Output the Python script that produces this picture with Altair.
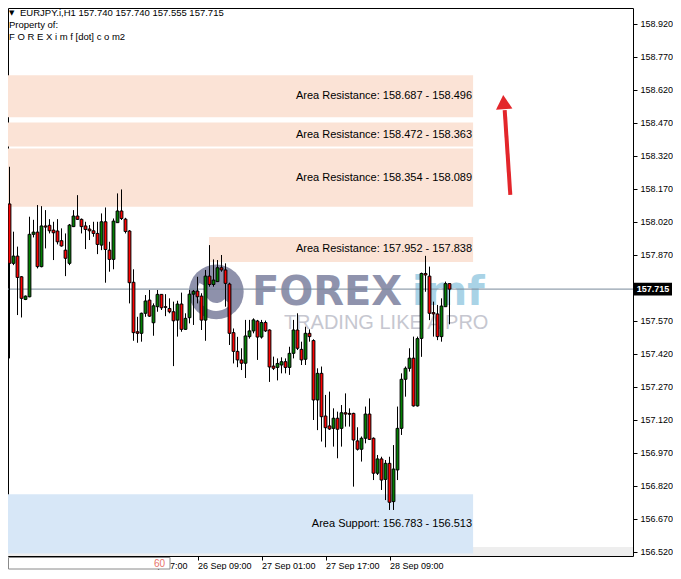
import json
import altair as alt
import pandas as pd

# ---------------- data ----------------
opens = [157.680, 158.102, 157.832, 157.865, 157.771, 157.668, 157.680, 157.964, 157.974, 157.817,
         158.002, 158.005, 157.983, 157.979, 157.935, 157.892, 157.832, 157.999, 158.047, 158.032,
         158.002, 157.988, 157.980, 157.968, 157.915, 158.021, 157.892, 157.850, 158.017, 158.070,
         158.033, 157.979, 157.746, 157.521, 157.514, 157.605, 157.665, 157.562, 157.635, 157.691,
         157.635, 157.627, 157.612, 157.574, 157.647, 157.532, 157.585, 157.692, 157.706, 157.683,
         157.574, 157.774, 157.736, 157.749, 157.812, 157.802, 157.738, 157.517, 157.432, 157.393,
         157.378, 157.499, 157.525, 157.570, 157.497, 157.563, 157.529, 157.365, 157.359, 157.370,
         157.385, 157.359, 157.423, 157.529, 157.441, 157.396, 157.514, 157.481, 157.211, 157.332,
         157.138, 157.093, 157.082, 157.128, 157.082, 157.153, 157.150, 157.150, 157.025, 156.987,
         157.037, 157.147, 157.037, 156.878, 156.943, 156.850, 156.923, 156.749, 156.893, 157.082,
         157.305, 157.355, 157.401, 157.184, 157.491, 157.786, 157.774, 157.608, 157.602, 157.499,
         157.635, 157.740]
highs = [158.188, 158.271, 157.976, 157.908, 157.774, 157.686, 158.044, 158.030, 158.097, 158.092,
         158.074, 158.033, 158.021, 158.033, 157.991, 157.968, 158.011, 158.074, 158.142, 158.036,
         158.021, 158.006, 158.021, 158.021, 158.059, 158.086, 157.930, 158.036, 158.150, 158.168,
         158.039, 157.983, 157.805, 157.589, 157.608, 157.688, 157.711, 157.650, 157.711, 157.692,
         157.692, 157.673, 157.658, 157.662, 157.699, 157.605, 157.711, 157.711, 157.771, 157.696,
         157.802, 157.915, 157.850, 157.847, 157.870, 157.832, 157.744, 157.536, 157.498, 157.446,
         157.575, 157.575, 157.582, 157.575, 157.575, 157.572, 157.532, 157.408, 157.400, 157.405,
         157.400, 157.453, 157.575, 157.605, 157.476, 157.544, 157.532, 157.487, 157.355, 157.363,
         157.234, 157.249, 157.173, 157.158, 157.188, 157.241, 157.173, 157.153, 157.087, 157.045,
         157.181, 157.218, 157.041, 156.961, 156.953, 156.938, 156.953, 157.006, 157.181, 157.332,
         157.363, 157.446, 157.499, 157.499, 157.790, 157.866, 157.817, 157.658, 157.643, 157.673,
         157.749, 157.740]
lows = [157.673, 157.400, 157.824, 157.597, 157.586, 157.665, 157.678, 157.950, 157.809, 157.814,
        157.900, 157.968, 157.847, 157.918, 157.908, 157.774, 157.824, 157.997, 158.029, 157.968,
        157.897, 157.938, 157.953, 157.874, 157.892, 157.744, 157.794, 157.805, 158.017, 158.029,
        157.968, 157.650, 157.480, 157.471, 157.476, 157.589, 157.589, 157.503, 157.612, 157.620,
        157.592, 157.605, 157.365, 157.499, 157.521, 157.529, 157.559, 157.552, 157.650, 157.529,
        157.480, 157.726, 157.726, 157.749, 157.794, 157.635, 157.461, 157.377, 157.360, 157.347,
        157.311, 157.490, 157.514, 157.393, 157.490, 157.520, 157.293, 157.347, 157.300, 157.332,
        157.332, 157.325, 157.400, 157.438, 157.370, 157.370, 157.476, 157.120, 157.074, 157.022,
        156.996, 157.075, 156.999, 156.946, 156.999, 157.090, 157.090, 156.817, 156.981, 156.931,
        157.014, 157.029, 156.847, 156.870, 156.802, 156.756, 156.711, 156.711, 156.847, 157.052,
        157.226, 157.340, 157.181, 157.181, 157.407, 157.703, 157.574, 157.499, 157.483, 157.476,
        157.635, 157.555]
closes = [158.105, 157.832, 157.865, 157.768, 157.673, 157.683, 157.964, 157.974, 157.817, 158.002,
          157.997, 157.980, 157.971, 157.930, 157.911, 157.855, 158.006, 158.047, 158.032, 157.999,
          157.986, 157.980, 157.968, 157.918, 158.021, 157.895, 157.850, 158.024, 158.070, 158.036,
          157.977, 157.744, 157.517, 157.514, 157.605, 157.661, 157.592, 157.639, 157.691, 157.630,
          157.632, 157.612, 157.571, 157.647, 157.532, 157.582, 157.692, 157.705, 157.680, 157.574,
          157.774, 157.736, 157.756, 157.812, 157.802, 157.741, 157.514, 157.432, 157.393, 157.378,
          157.502, 157.525, 157.575, 157.497, 157.563, 157.525, 157.361, 157.355, 157.377, 157.385,
          157.359, 157.423, 157.529, 157.446, 157.393, 157.514, 157.499, 157.211, 157.332, 157.135,
          157.085, 157.079, 157.128, 157.078, 157.153, 157.147, 157.146, 157.029, 156.987, 157.037,
          157.147, 157.032, 156.878, 156.943, 156.847, 156.923, 156.746, 156.897, 157.082, 157.305,
          157.355, 157.401, 157.184, 157.490, 157.786, 157.779, 157.605, 157.602, 157.499, 157.638,
          157.740, 157.715]

tick_idx = [32, 48, 64, 80, 96]
tick_labels = ["25 Sep 17:00", "26 Sep 09:00", "27 Sep 01:00", "27 Sep 17:00", "28 Sep 09:00"]
price_ticks = [156.520, 156.670, 156.820, 156.970, 157.120, 157.270, 157.420, 157.570,
               157.870, 158.020, 158.170, 158.320, 158.470, 158.620, 158.770, 158.920]

box_labels = ["Area Resistance: 158.687 - 158.496", "Area Resistance: 158.472 - 158.363",
              "Area Resistance: 158.354 - 158.089", "Area Resistance: 157.952 - 157.838",
              "Area Support: 156.783 - 156.513"]
box_hi = [158.687, 158.472, 158.354, 157.952, 156.783]
box_lo = [158.496, 158.363, 158.089, 157.838, 156.513]
box_start = [-3.0, -3.0, -3.0, 50.9, -3.0]
box_end = [116.9, 116.9, 116.9, 116.9, 116.9]
box_fill = ["#fbe3d6", "#fbe3d6", "#fbe3d6", "#fbe3d6", "#d7e7f7"]

last_price = 157.715
header_lines = ["EURJPY.i,H1  157.740 157.740 157.555 157.715", "Property of:",
                "F O R E X i m f [dot] c o m2"]

arrow_idx = [126.2, 124.8]
arrow_price = [158.143, 158.529]
arrow_head = (124.55, 158.565)

# ---------------- scales ----------------
XDOM = [0.625, 156.875]
YDOM = [156.5018, 158.9927]
W, H = 625, 548
FONT = "Liberation Sans"

label_expr = "%s[indexof(%s, datum.value)]" % (json.dumps(tick_labels), json.dumps(tick_idx))
x_axis = alt.Axis(values=tick_idx, labelExpr=label_expr, title=None, orient="bottom",
                  tickSize=4, tickColor="black", domain=False, grid=False, zindex=0,
                  labelAlign="left", labelBaseline="top", labelPadding=1, labelFontSize=9,
                  labelFont=FONT, labelColor="black", labelOverlap=False, labelFlush=False,
                  labelBound=False)
y_axis = alt.Axis(values=price_ticks, format=".3f", title=None, orient="right",
                  tickSize=4, tickColor="black", domain=False, grid=False, zindex=0,
                  labelPadding=3, labelFontSize=9, labelFont=FONT, labelColor="black",
                  labelOverlap=False, labelFlush=False, labelBound=False)
xs = alt.Scale(domain=XDOM, nice=False, zero=False)
ys = alt.Scale(domain=YDOM, nice=False, zero=False)


def X(f):
    return alt.X(f, type="quantitative", scale=xs, axis=x_axis)


def Y(f):
    return alt.Y(f, type="quantitative", scale=ys, axis=y_axis)


df = pd.DataFrame({"i": list(range(len(opens))), "o": opens, "h": highs, "l": lows, "c": closes})
df["fillc"] = ["#008000" if c >= o else "#ff0000" for o, c in zip(opens, closes)]
df["x1"] = df["i"] - 0.35
df["x2"] = df["i"] + 0.35

boxes = pd.DataFrame({"label": box_labels, "hi": box_hi, "lo": box_lo, "x1": box_start,
                      "x2": box_end, "fillc": box_fill})
boxes["mid"] = (boxes["hi"] + boxes["lo"]) / 2

# bottom grey strip
strip = alt.Chart(pd.DataFrame({"a": [-3.0], "b": [160.0], "lo": [YDOM[0]], "hi": [156.543]})).mark_rect(
    color="#eeeeee", clip=True).encode(x=X("a"), x2="b", y=Y("lo"), y2="hi")

box_layer = alt.Chart(boxes).mark_rect(clip=True).encode(
    x=X("x1"), x2="x2", y=Y("lo"), y2="hi", color=alt.Color("fillc:N", scale=None))

box_text = alt.Chart(boxes).mark_text(align="right", baseline="middle", dx=-1, fontSize=11,
                                      font=FONT, color="black").encode(
    x=X("x2"), y=Y("mid"), text="label:N")

# watermark
logo = alt.Chart(pd.DataFrame({"x": [52.7], "y": [157.702]}))
disc = logo.mark_point(filled=True, shape="circle", size=3000, color="#8e91ab", opacity=1).encode(
    x=X("x"), y=Y("y"))
swirl = logo.mark_arc(radius=19, radius2=11, theta=2.3, theta2=5.2, color="white").encode(
    x=X("x"), y=Y("y"))
wm_x = [61.6, 101.6]
wm_y = [157.643, 157.643]
wm_t = ["FOREX", "imf"]
wm_c = ["#8f93ad", "#a9d3e6"]
wm_big = alt.Chart(pd.DataFrame({"x": wm_x, "y": wm_y, "t": wm_t, "c": wm_c})).mark_text(
    align="left", baseline="alphabetic", fontSize=40, font="DejaVu Sans", fontWeight="bold").encode(
    x=X("x"), y=Y("y"), text="t:N", color=alt.Color("c:N", scale=None))
wm_small = alt.Chart(pd.DataFrame({"x": [69.6], "y": [157.534], "t": ["TRADING LIKE A PRO"]})).mark_text(
    align="left", baseline="alphabetic", fontSize=20, font=FONT, color="#c6c7d0").encode(
    x=X("x"), y=Y("y"), text="t:N")

# current price line
price_df = pd.DataFrame({"p": [last_price], "a": [-3.0], "b": [160.0],
                         "top": [last_price + 0.029], "bot": [last_price - 0.029],
                         "t": ["%.3f" % last_price]})
price_rule = alt.Chart(price_df).mark_rule(color="#778899", strokeWidth=1, clip=True).encode(
    x=X("a"), x2="b", y=Y("p"))

# candles
wicks = alt.Chart(df).mark_rule(color="black", strokeWidth=1, clip=True).encode(
    x=X("i"), y=Y("l"), y2="h")
bodies = alt.Chart(df).mark_rect(stroke="black", strokeWidth=1, clip=True).encode(
    x=X("x1"), x2="x2", y=Y("o"), y2="c", color=alt.Color("fillc:N", scale=None))

# arrow
arrow_df = pd.DataFrame({"x": arrow_idx, "y": arrow_price})
arrow_line = alt.Chart(arrow_df).mark_line(color="#e3262b", strokeWidth=4, strokeCap="butt").encode(
    x=X("x"), y=Y("y"))
arrow_tip = alt.Chart(pd.DataFrame({"x": [arrow_head[0]], "y": [arrow_head[1]]})).mark_point(
    shape="triangle-up", filled=True, size=270, color="#e3262b", opacity=1, angle=356).encode(
    x=X("x"), y=Y("y"))

# price label on axis
price_box = alt.Chart(price_df).mark_rect(color="black").encode(
    x=alt.value(625.5), x2=alt.value(664), y=Y("top"), y2="bot")
price_txt = alt.Chart(price_df).mark_text(align="center", baseline="middle", fontSize=9, font=FONT,
                                          fontWeight="bold", color="white").encode(
    x=alt.value(645), y=Y("p"), text="t:N")

# header
hdr = pd.DataFrame({"t": header_lines, "x": [12, 1, 1], "y": [5, 17, 29]})
hdr_text = alt.Chart(hdr).mark_text(align="left", baseline="middle", fontSize=9.5, font=FONT,
                                    color="black").encode(
    x=alt.X("x:Q", scale=None), y=alt.Y("y:Q", scale=None), text="t:N")
hdr_tri = alt.Chart(pd.DataFrame({"t": ["\u25bc"]})).mark_text(
    align="left", baseline="middle", fontSize=7, font="DejaVu Sans", color="black").encode(
    x=alt.value(1), y=alt.value(5), text="t:N")

# period box at bottom-left
pbox = alt.Chart(pd.DataFrame({"t": ["60"]})).mark_rect(fill="white", stroke="#8a8a8a",
                                                       strokeWidth=1).encode(
    x=alt.value(0.5), x2=alt.value(162), y=alt.value(549.5), y2=alt.value(561))
ptxt = alt.Chart(pd.DataFrame({"t": ["60"]})).mark_text(align="right", baseline="middle",
                                                       fontSize=10, font=FONT, color="#e8736b").encode(
    x=alt.value(157), y=alt.value(556), text="t:N")

chart = alt.layer(
    strip, box_layer, disc, swirl, wm_big, wm_small, price_rule, wicks, bodies, box_text,
    arrow_line, arrow_tip, hdr_tri, hdr_text, price_box, price_txt, pbox, ptxt
).properties(
    width=W, height=H,
    padding={"left": 0, "top": 0, "right": 0, "bottom": 0},
    background="white",
).configure_view(stroke="black", strokeWidth=1)

chart.save("out.html", embed_options={"renderer": "svg", "actions": False})
